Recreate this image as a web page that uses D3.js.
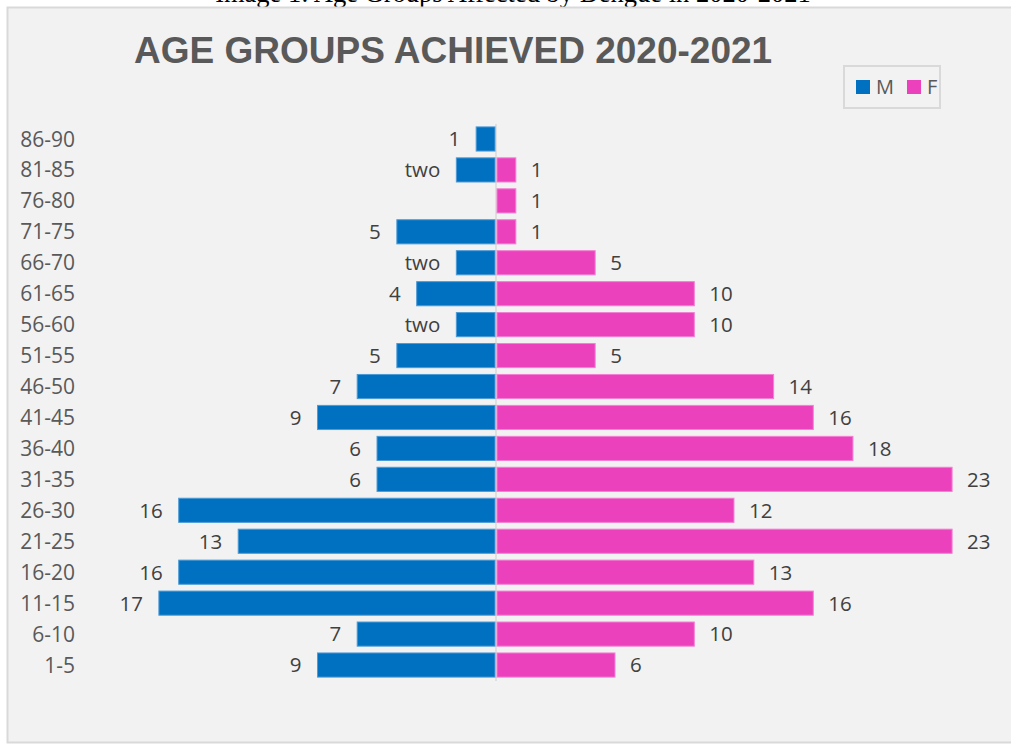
<!DOCTYPE html>
<html>
<head>
<meta charset="utf-8">
<script src="https://cdn.jsdelivr.net/npm/d3@7"></script>
<style>
body{margin:0;background:#fff;}
svg{display:block;}
.tick text{font-family:"Open Sans",sans-serif;font-size:21px;fill:#595959;}
.lbl{font-family:"Open Sans",sans-serif;font-size:20.5px;fill:#404040;}
</style>
</head>
<body>
<div id="chart"></div>
<script>
// age groups, top to bottom
var ages = ["86-90","81-85","76-80","71-75","66-70","61-65","56-60","51-55","46-50","41-45","36-40","31-35","26-30","21-25","16-20","11-15","6-10","1-5"];
var male   = [1,2,0,5,2,4,2,5,7,9,6,6,16,13,16,17,7,9];
var female = [0,1,1,1,5,10,10,5,14,16,18,23,12,23,13,16,10,6];
// labels as printed on the chart
var maleLabels   = ["1","two","","5","two","4","two","5","7","9","6","6","16","13","16","17","7","9"];
var femaleLabels = ["","1","1","1","5","10","10","5","14","16","18","23","12","23","13","16","10","6"];
var series = ["M","F"];
var colors = ["#0070c0","#eb41bd"];

var rows = ages.map(function(a,i){
	return {age:a, m:male[i], f:female[i], mL:maleLabels[i], fL:femaleLabels[i]};
});

var W = 1011, H = 745;
var svg = d3.select("#chart").append("svg").attr("width",W).attr("height",H);

// caption above the panel (cut off like the source)
svg.append("text")
	.attr("x",513).attr("y",2)
	.attr("text-anchor","middle")
	.style("font-family","'Liberation Serif','Times New Roman',serif")
	.style("font-size","26.5px")
	.style("fill","#000")
	.text("Image 1: Age Groups Affected by Dengue in 2020-2021");

// panel
svg.append("rect")
	.attr("x",7.5).attr("y",7.5)
	.attr("width",W+10).attr("height",735)
	.attr("fill","#f2f2f2")
	.attr("stroke","#d9d9d9")
	.attr("stroke-width",2);

// title
svg.append("text")
	.attr("x",134).attr("y",63)
	.style("font-family","'Liberation Sans',Arial,sans-serif")
	.style("font-weight","bold")
	.style("font-size","37px")
	.style("fill","#595959")
	.text("AGE GROUPS ACHIEVED 2020-2021");

//scales
var x = d3.scaleLinear().domain([-25,25]).range([0.25,991.75]);
var y = d3.scaleBand().domain(ages).range([123.5,680.5]).paddingInner(0.22).paddingOuter(0.11);

// center line
svg.append("line")
	.attr("x1",x(0)).attr("x2",x(0))
	.attr("y1",124).attr("y2",681)
	.attr("stroke","#d9d9d9").attr("stroke-width",1.5);

//male bars
svg.selectAll(".barM").data(rows.filter(function(d){return d.m>0;})).enter().append("rect")
	.attr("class","barM")
	.attr("x",function(d){return x(-d.m);})
	.attr("y",function(d){return y(d.age);})
	.attr("width",function(d){return x(0)-x(-d.m)-1;})
	.attr("height",y.bandwidth())
	.attr("fill",colors[0])
	.attr("stroke","#4d9bd6").attr("stroke-width",1);

//female bars
svg.selectAll(".barF").data(rows.filter(function(d){return d.f>0;})).enter().append("rect")
	.attr("class","barF")
	.attr("x",x(0)+1)
	.attr("y",function(d){return y(d.age);})
	.attr("width",function(d){return x(d.f)-x(0)-1;})
	.attr("height",y.bandwidth())
	.attr("fill",colors[1])
	.attr("stroke","#f27fd3").attr("stroke-width",1);

//data labels
svg.selectAll(".lblM").data(rows).enter().append("text")
	.attr("class","lbl")
	.attr("x",function(d){return x(-d.m)-16;})
	.attr("y",function(d){return y(d.age)+y.bandwidth()/2;})
	.attr("dy","0.36em")
	.attr("text-anchor","end")
	.text(function(d){return d.mL;});

svg.selectAll(".lblF").data(rows).enter().append("text")
	.attr("class","lbl")
	.attr("x",function(d){return x(d.f)+15;})
	.attr("y",function(d){return y(d.age)+y.bandwidth()/2;})
	.attr("dy","0.36em")
	.text(function(d){return d.fL;});

// category axis
var yAxis = svg.append("g")
	.attr("transform","translate(83,0)")
	.call(d3.axisLeft(y).tickSize(0).tickPadding(8));
yAxis.select(".domain").remove();
yAxis.selectAll(".tick text").attr("dy","0.36em");

//legend
var lg = svg.append("g");
lg.append("rect")
	.attr("x",844).attr("y",66).attr("width",96).attr("height",42)
	.attr("fill","#f2f2f2").attr("stroke","#d9d9d9").attr("stroke-width",2);
var lgX = [856,907];
series.forEach(function(s,i){
	lg.append("rect").attr("x",lgX[i]).attr("y",80).attr("width",14).attr("height",14).attr("fill",colors[i]);
	lg.append("text").attr("x",lgX[i]+20).attr("y",87).attr("dy","0.36em")
		.style("font-family","'Open Sans',sans-serif").style("font-size","20px").style("fill","#595959")
		.text(s);
});
</script>
</body>
</html>
